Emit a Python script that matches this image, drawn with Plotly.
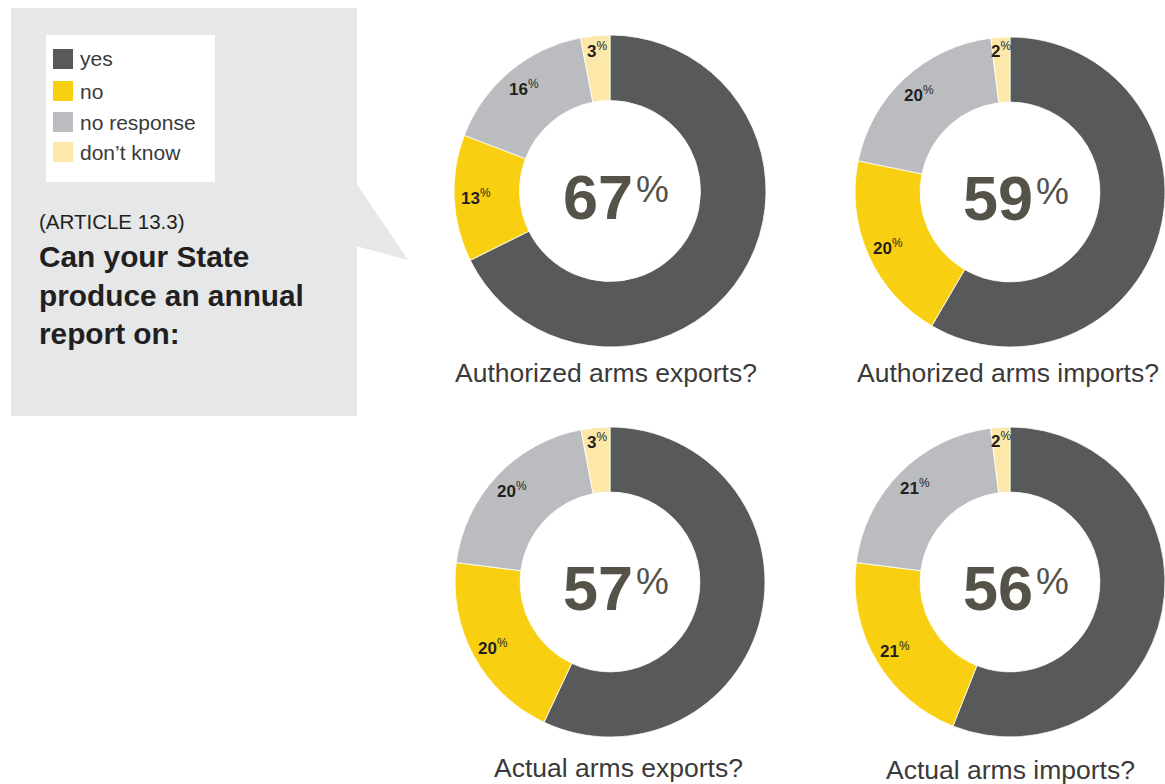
import math
import plotly.graph_objects as go

W, H = 1165, 784

# Answer categories and their colours
categories = ["yes", "no", "no response", "don't know"]
colors = ["#58595b", "#f9cf12", "#bbbcbf", "#fde7a9"]

# Survey results (percent of States)
auth_exports = [67, 13, 16, 3]
auth_imports = [59, 20, 20, 2]
actual_exports = [57, 20, 20, 3]
actual_imports = [56, 21, 21, 2]

titles = ["Authorized arms exports?", "Authorized arms imports?",
          "Actual arms exports?", "Actual arms imports?"]
series = [auth_exports, auth_imports, actual_exports, actual_imports]

# Donut placement in pixels: centre x, centre y, outer radius, caption offset
donuts = [
    (610, 191, 156, -4, 182),
    (1010, 192, 155, -2, 181),
    (610, 582, 155, 8, 186),
    (1010, 582, 155, 0, 188),
]
HOLE = 0.58
FONT = "Liberation Sans, Arial, sans-serif"
TEXT = "#3a3a3a"
BIG = "#55524a"


def px(x):
    return x / W


def py(y):
    return 1 - y / H


fig = go.Figure()
annotations = []
shapes = []

# Grey question panel with speech-bubble pointer
shapes.append(dict(type="rect", xref="paper", yref="paper",
                   x0=px(11), x1=px(357), y0=py(416), y1=py(8),
                   fillcolor="#e6e7e8", line=dict(width=0), layer="below"))
shapes.append(dict(type="path", xref="paper", yref="paper",
                   path=f"M {px(356)} {py(183)} L {px(408)} {py(260)} L {px(356)} {py(246)} Z",
                   fillcolor="#e6e7e8", line=dict(width=0), layer="below"))

# Legend box
shapes.append(dict(type="rect", xref="paper", yref="paper",
                   x0=px(46), x1=px(215), y0=py(182), y1=py(35),
                   fillcolor="white", line=dict(width=0), layer="below"))
legend_rows = [59, 91, 122, 152]
for cat, col, yc in zip(categories, colors, legend_rows):
    shapes.append(dict(type="rect", xref="paper", yref="paper",
                       x0=px(53), x1=px(73), y0=py(yc + 10), y1=py(yc - 10),
                       fillcolor=col, line=dict(width=0)))
    annotations.append(dict(xref="paper", yref="paper", x=px(78), y=py(yc),
                            xanchor="left", yanchor="middle", showarrow=False,
                            text=cat.replace("'", "\u2019"),
                            font=dict(family=FONT, size=21, color=TEXT)))

annotations.append(dict(xref="paper", yref="paper", x=px(37), y=py(221),
                        xanchor="left", yanchor="middle", showarrow=False,
                        text="(ARTICLE 13.3)",
                        font=dict(family=FONT, size=20.5, color="#231f20")))
annotations.append(dict(xref="paper", yref="paper", x=px(37), y=py(238),
                        xanchor="left", yanchor="top", showarrow=False, align="left",
                        text="<b>Can your State<br>produce an annual<br>report on:</b>",
                        font=dict(family=FONT, size=29.8, color="#231f20")))

for vals, title, (cx, cy, r, tdx, tdy) in zip(series, titles, donuts):
    fig.add_trace(go.Pie(
        labels=categories, values=vals, hole=HOLE, sort=False,
        direction="clockwise", rotation=0,
        marker=dict(colors=colors, line=dict(color="white", width=0.8)),
        textinfo="none", hoverinfo="label+value", showlegend=False,
        domain=dict(x=[px(cx - r), px(cx + r)], y=[py(cy + r), py(cy - r)]),
    ))

    # Centre figure: share of "yes"
    annotations.append(dict(xref="paper", yref="paper", x=px(cx + 25), y=py(cy + 6),
                            xanchor="right", yanchor="middle", showarrow=False,
                            text=f"<b>{vals[0]}</b>",
                            font=dict(family=FONT, size=63, color=BIG)))
    annotations.append(dict(xref="paper", yref="paper", x=px(cx + 24), y=py(cy - 1),
                            xanchor="left", yanchor="middle", showarrow=False,
                            text="%", font=dict(family=FONT, size=37, color=BIG)))

    # Segment labels for the other answers, at each slice's mid-angle
    total = sum(vals)
    start = vals[0]
    for v in vals[1:]:
        mid = (start + v / 2) / total
        start += v
        ang = 2 * math.pi * mid
        rr = 134 if v >= 5 else 142
        lx = cx + rr * math.sin(ang)
        ly = cy - rr * math.cos(ang)
        annotations.append(dict(xref="paper", yref="paper", x=px(lx), y=py(ly),
                                xanchor="center", yanchor="middle", showarrow=False,
                                text=f"<b>{v}</b><sup>%</sup>",
                                font=dict(family=FONT, size=17, color="#231f20")))

    annotations.append(dict(xref="paper", yref="paper", x=px(cx + tdx), y=py(cy + tdy),
                            xanchor="center", yanchor="middle", showarrow=False,
                            text=title, font=dict(family=FONT, size=26.5, color=TEXT)))

fig.update_layout(
    width=W, height=H, margin=dict(l=0, r=0, t=0, b=0),
    paper_bgcolor="white", plot_bgcolor="white",
    shapes=shapes, annotations=annotations,
)

fig.write_html("out.html")
